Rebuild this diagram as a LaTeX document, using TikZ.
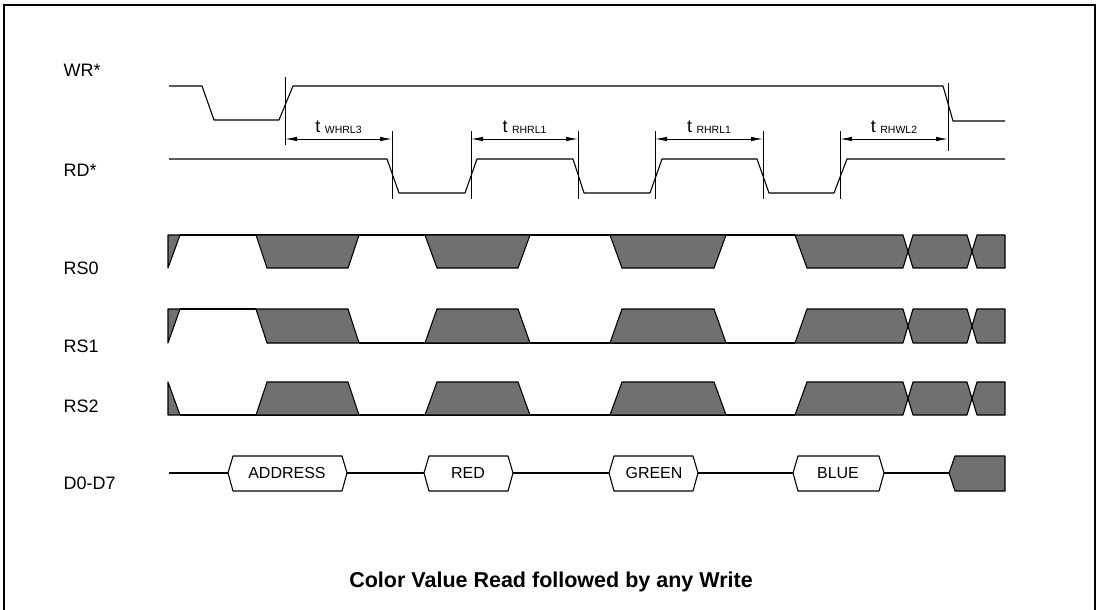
\documentclass[tikz,border=0pt]{standalone}
\usepackage{fontspec}
\setmainfont{Liberation Sans}
\usetikzlibrary{arrows.meta}

\newcommand{\tlab}[1]{{\fontsize{18}{18}\selectfont t}\hspace{4.5pt}\raisebox{-1pt}{\fontsize{10.5}{11}\selectfont #1}}

\begin{document}
\begin{tikzpicture}[x=1pt,y=-1pt,
    sig/.style={line width=1.1pt,line join=round},
    dc/.style={fill=black!56,draw=black,line width=1.1pt,line join=round},
    guide/.style={line width=0.9pt},
    lbl/.style={anchor=west,font=\fontsize{18}{20}\selectfont},
    buslbl/.style={font=\fontsize{16}{18}\selectfont},
    dim/.style={<->,>={Latex[length=12pt,width=4.5pt]},line width=0.9pt}]
        \useasboundingbox (0,0) rectangle (1100,610);
        % frame
        \draw[line width=1.8pt] (4,610) -- (4,5) -- (1095,5) -- (1095,610);

        \node[lbl] (wr) at (60,70) {WR*};
        \node[lbl] (rd) at (60,170) {RD*};
        \node[lbl] (rs0) at (60,268) {RS0};
        \node[lbl] (rs1) at (60,346) {RS1};
        \node[lbl] (rs2) at (60,406) {RS2};
        \node[lbl] (dbus) at (60,483) {D0-D7};

        % WR* and RD*
        \draw[sig] (169,86) -- (202,86) -- (214,120) -- (279,120) -- (293,86) -- (943,86) -- (953,121) -- (1005,121);
        \draw[sig] (169,159) -- (387,159) -- (399,193) -- (465,193) -- (477,159) -- (573,159) -- (584,193)
              -- (650,193) -- (662,159) -- (757,159) -- (769,193) -- (834,193) -- (847,159) -- (1005,159);

        \draw[guide] (285,77) -- (285,145);
        \draw[guide] (948,83) -- (948,151);
        \draw[guide] (392,131) -- (392,199);
        \draw[guide] (471,131) -- (471,199);
        \draw[guide] (578,131) -- (578,199);
        \draw[guide] (655,131) -- (655,199);
        \draw[guide] (763,131) -- (763,199);
        \draw[guide] (840,131) -- (840,199);

        \coordinate (w1) at (285,139);
        \coordinate (r1) at (392,139);
        \coordinate (r2) at (471,139);
        \coordinate (r3) at (578,139);
        \coordinate (r4) at (655,139);
        \coordinate (r5) at (763,139);
        \coordinate (r6) at (840,139);
        \coordinate (w2) at (948,139);
        \draw[dim] (w1) -- (r1) node[midway,anchor=base,yshift=7pt] (t1) {\tlab{WHRL3}};
        \draw[dim] (r2) -- (r3) node[midway,anchor=base,yshift=7pt] (t2) {\tlab{RHRL1}};
        \draw[dim] (r4) -- (r5) node[midway,anchor=base,yshift=7pt] (t3) {\tlab{RHRL1}};
        \draw[dim] (r6) -- (w2) node[midway,anchor=base,yshift=7pt] (t4) {\tlab{RHWL2}};

        % RS0
        \draw[sig] (180,235) -- (795,235);
        \filldraw[dc] (168,235) -- (180,235) -- (168,268) -- cycle;
        \filldraw[dc] (256,235) -- (359,235) -- (348,268) -- (267,268) -- cycle;
        \filldraw[dc] (425,235) -- (530,235) -- (518,268) -- (437,268) -- cycle;
        \filldraw[dc] (610,235) -- (726,235) -- (714,268) -- (622,268) -- cycle;
        \filldraw[dc] (795,235) -- (903,235) -- (908,251.5) -- (903,268) -- (807,268) -- cycle;
        \filldraw[dc] (908,251.5) -- (913,235) -- (967,235) -- (972,251.5) -- (967,268) -- (913,268) -- cycle;
        \filldraw[dc] (972,251.5) -- (977,235) -- (1005,235) -- (1005,268) -- (977,268) -- cycle;

        % RS1
        \draw[sig] (180,309) -- (256,309);
        \draw[sig] (359,343) -- (795,343);
        \filldraw[dc] (168,309) -- (180,309) -- (168,343) -- cycle;
        \filldraw[dc] (256,309) -- (348,309) -- (359,343) -- (267,343) -- cycle;
        \filldraw[dc] (425,343) -- (437,309) -- (518,309) -- (530,343) -- cycle;
        \filldraw[dc] (610,343) -- (622,309) -- (714,309) -- (726,343) -- cycle;
        \filldraw[dc] (795,343) -- (807,309) -- (903,309) -- (908,326) -- (903,343) -- cycle;
        \filldraw[dc] (908,326) -- (913,309) -- (967,309) -- (972,326) -- (967,343) -- (913,343) -- cycle;
        \filldraw[dc] (972,326) -- (977,309) -- (1005,309) -- (1005,343) -- (977,343) -- cycle;

        % RS2
        \draw[sig] (180,415) -- (795,415);
        \filldraw[dc] (168,382) -- (180,415) -- (168,415) -- cycle;
        \filldraw[dc] (256,415) -- (267,382) -- (348,382) -- (359,415) -- cycle;
        \filldraw[dc] (425,415) -- (437,382) -- (518,382) -- (530,415) -- cycle;
        \filldraw[dc] (610,415) -- (622,382) -- (714,382) -- (726,415) -- cycle;
        \filldraw[dc] (795,415) -- (807,382) -- (903,382) -- (908,398.5) -- (903,415) -- cycle;
        \filldraw[dc] (908,398.5) -- (913,382) -- (967,382) -- (972,398.5) -- (967,415) -- (913,415) -- cycle;
        \filldraw[dc] (972,398.5) -- (977,382) -- (1005,382) -- (1005,415) -- (977,415) -- cycle;

        % D0-D7
        \draw[sig] (169,473) -- (228,473);
        \draw[sig] (347,473) -- (424,473);
        \draw[sig] (513,473) -- (609,473);
        \draw[sig] (698,473) -- (793,473);
        \draw[sig] (884,473) -- (949,473);
        \draw[sig] (228,473) -- (233,456) -- (342,456) -- (347,473) -- (342,491) -- (233,491) -- cycle;
        \draw[sig] (424,473) -- (429,456) -- (508,456) -- (513,473) -- (508,491) -- (429,491) -- cycle;
        \draw[sig] (609,473) -- (614,456) -- (693,456) -- (698,473) -- (693,491) -- (614,491) -- cycle;
        \draw[sig] (793,473) -- (798,456) -- (879,456) -- (884,473) -- (879,491) -- (798,491) -- cycle;
        \filldraw[dc] (949,473) -- (955,456) -- (1005,456) -- (1005,491) -- (955,491) -- cycle;
        \node[buslbl] (addr) at (287,473) {ADDRESS};
        \node[buslbl] (red) at (468,473) {RED};
        \node[buslbl] (green) at (654,473) {GREEN};
        \node[buslbl] (blue) at (838,473) {BLUE};

        \node[font=\bfseries\fontsize{21.5}{24}\selectfont] (title) at (551,582) {Color Value Read followed by any Write};
      \end{tikzpicture}
\end{document}
